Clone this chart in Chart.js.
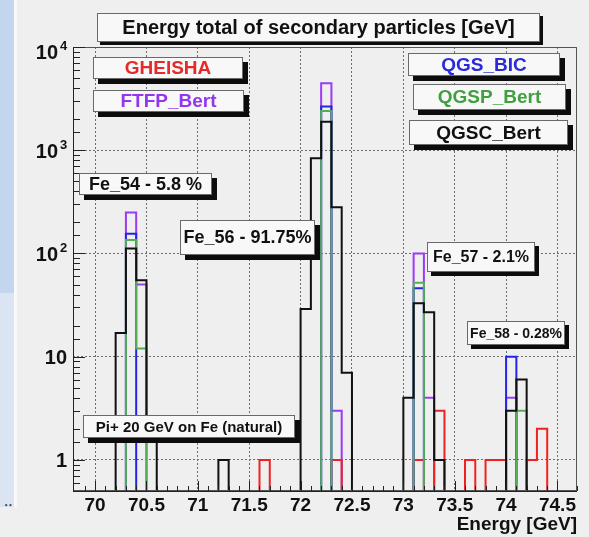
<!DOCTYPE html>
<html>
<head>
<meta charset="utf-8">
<title>Energy total of secondary particles</title>
<script src="https://cdn.jsdelivr.net/npm/chart.js@4.4.1/dist/chart.umd.min.js"></script>
<style>
  html, body { margin: 0; padding: 0; }
  body {
    width: 589px; height: 537px; position: relative; overflow: hidden;
    background: #efefef;
    font-family: "Liberation Sans", Arial, sans-serif;
  }
  .edge { position: absolute; left: 0; width: 14px; }
  #edgeTop { top: 0; height: 293px; background: #c4d6ef; }
  #edgeLow { top: 293px; height: 214px; background: #dae4f2; }
  #edgeGap { position: absolute; left: 14px; top: 0; width: 3px; height: 507px; background: #f9f9f9; }
  #dots { position: absolute; left: 4px; top: 489px; font-size: 16px; color: #444; }
  canvas { position: absolute; left: 0; top: 0; }
</style>
</head>
<body>
<div class="edge" id="edgeTop"></div>
<div class="edge" id="edgeLow"></div>
<div id="edgeGap"></div>
<div id="dots">‥</div>
<canvas id="chart" width="589" height="537"></canvas>
<script>
// Histogram binning (GeV)
const binWidth = 0.1;
const histLow = 69.7;
const histHigh = 74.8;

// Axis ranges
const energyMin = 69.785;
const energyMax = 74.69;
const countMin = 0.5;
const countMax = 10000;

const energyTicks = [70, 70.5, 71, 71.5, 72, 72.5, 73, 73.5, 74, 74.5];
const countTicks = [1, 10, 100, 1000, 10000];

// Filled bins (lower edge) and entries for each physics list
const gheishaBins = [71.6, 72.3, 73.1, 73.3, 73.6, 73.8, 73.9, 74.2, 74.3];
const gheishaCounts = [1, 1, 1, 3, 1, 1, 1, 1, 2];

const ftfpBins = [70.3, 70.4, 72.2, 72.3, 73.1, 73.2, 74.0];
const ftfpCounts = [250, 50, 4450, 3, 100, 4, 4];

const qgsBicBins = [70.3, 72.2, 73.1, 74.0];
const qgsBicCounts = [155, 2650, 46, 10];

const qgspBins = [70.3, 70.4, 72.2, 73.1, 74.1];
const qgspCounts = [135, 12, 2400, 52, 3];

const qgscBins = [70.2, 70.3, 70.4, 70.5, 71.2, 72.0, 72.1, 72.2, 72.3, 72.4, 73.0, 73.1, 73.2, 73.3, 74.0, 74.1];
const qgscCounts = [17, 112, 55, 2, 1, 29, 836, 1890, 280, 7, 4, 33, 27, 1, 3, 6];

const models = ['GHEISHA', 'FTFP_Bert', 'QGS_BIC', 'QGSP_Bert', 'QGSC_Bert'];
const isotopeLabels = ['Fe_54 - 5.8 %', 'Fe_56 - 91.75%', 'Fe_57 - 2.1%', 'Fe_58 - 0.28%'];
const runLabel = 'Pi+ 20 GeV on Fe (natural)';
const titleText = 'Energy total of secondary particles [GeV]';
const axisTitle = 'Energy [GeV]';

// line colours and drawing order (lower order is drawn on top)
const lineColors = ['#ee2222', '#9a3cf4', '#2424e2', '#55ae55', '#111111'];
const textColors = ['#e62a2a', '#9436ee', '#2a2ad6', '#40a040', '#111111'];
const drawOrder = [3, 4, 2, 1, 0];

const FONT = '"Liberation Sans", Arial, sans-serif';

function isHalf(v) { return Math.abs(v * 2 - Math.round(v * 2)) < 1e-6; }
function isDecade(v) { const l = Math.log10(v); return Math.abs(l - Math.round(l)) < 1e-6; }

// step outline: one point per bin lower edge, empty bins sit on the axis floor
function stepPoints(bins, counts) {
  const pts = [];
  const n = Math.round((histHigh - histLow) / binWidth);
  for (let i = 0; i <= n; i++) {
    const x = Math.round((histLow + i * binWidth) * 10) / 10;
    const k = bins.findIndex(b => Math.abs(b - x) < 1e-6);
    pts.push({ x: x, y: (k >= 0 && i < n) ? counts[k] : countMin });
  }
  return pts;
}

const series = [
  [gheishaBins, gheishaCounts],
  [ftfpBins, ftfpCounts],
  [qgsBicBins, qgsBicCounts],
  [qgspBins, qgspCounts],
  [qgscBins, qgscCounts]
];

const datasets = series.map((s, i) => ({
  label: models[i],
  data: stepPoints(s[0], s[1]),
  borderColor: lineColors[i],
  borderWidth: 2,
  pointRadius: 0,
  fill: false,
  stepped: true,
  tension: 0,
  order: drawOrder[i]
}));

// boxes drawn over the frame: [x, y, w, h, shadow]
const titleBox = [97, 13, 443, 29, 3];
const legendBoxes = [
  [93, 57, 150, 22, 5],
  [93, 90, 151, 22, 5],
  [408, 53, 152, 23, 5],
  [413, 84, 153, 26, 5],
  [409, 120, 159, 25, 5]
];
const isotopeBoxes = [
  [79, 173, 133, 22, 5],
  [180, 220, 135, 35, 5],
  [427, 242, 108, 30, 4],
  [467, 321, 98, 24, 4]
];
const isotopeFonts = [18, 18, 16, 14];
const runBox = [83, 415, 212, 23, 5];

function drawPave(ctx, box, text, color, size) {
  const [x, y, w, h, s] = box;
  ctx.fillStyle = '#0c0c0c';
  ctx.fillRect(x + s, y + s, w, h);
  ctx.fillStyle = '#f8f8f8';
  ctx.fillRect(x, y, w, h);
  ctx.strokeStyle = '#6a6a6a';
  ctx.lineWidth = 1;
  ctx.strokeRect(x + 0.5, y + 0.5, w - 1, h - 1);
  ctx.fillStyle = color;
  ctx.font = 'bold ' + size + 'px ' + FONT;
  ctx.textAlign = 'center';
  ctx.textBaseline = 'middle';
  ctx.fillText(text, x + w / 2, y + h / 2 + 1);
}

const framePlugin = {
  id: 'rootFrame',
  afterDatasetsDraw(chart) {
    const { ctx, chartArea: a, scales: { x, y } } = chart;
    ctx.save();

    // frame
    ctx.strokeStyle = '#555';
    ctx.lineWidth = 1;
    ctx.strokeRect(a.left + 0.5, a.top + 0.5, a.right - a.left - 1, a.bottom - a.top - 1);
    ctx.strokeStyle = '#222';
    ctx.beginPath();
    ctx.moveTo(a.left + 0.5, a.top);
    ctx.lineTo(a.left + 0.5, a.bottom + 0.5);
    ctx.lineTo(a.right, a.bottom + 0.5);
    ctx.stroke();

    // inward tick marks
    ctx.beginPath();
    x.ticks.forEach(t => {
      if (t.value < energyMin + 1e-6 || t.value > energyMax) return;
      const px = Math.round(x.getPixelForValue(t.value)) + 0.5;
      const len = isHalf(t.value) ? 10 : 5;
      ctx.moveTo(px, a.bottom);
      ctx.lineTo(px, a.bottom - len);
    });
    y.ticks.forEach(t => {
      const py = Math.round(y.getPixelForValue(t.value)) + 0.5;
      const len = isDecade(t.value) ? 12 : 7;
      ctx.moveTo(a.left, py);
      ctx.lineTo(a.left + len, py);
    });
    ctx.stroke();

    // x tick labels
    ctx.fillStyle = '#111';
    ctx.font = 'bold 19px ' + FONT;
    ctx.textAlign = 'center';
    ctx.textBaseline = 'middle';
    energyTicks.forEach(v => {
      ctx.fillText(String(v), x.getPixelForValue(v), a.bottom + 15);
    });

    // y tick labels, powers of ten
    countTicks.forEach(v => {
      const e = Math.round(Math.log10(v));
      const py = Math.max(y.getPixelForValue(v) + 2, a.top + 6);
      ctx.textBaseline = 'middle';
      if (e < 2) {
        ctx.font = 'bold 20px ' + FONT;
        ctx.textAlign = 'right';
        ctx.fillText(String(v), a.left - 6, py);
      } else {
        ctx.font = 'bold 20px ' + FONT;
        ctx.textAlign = 'right';
        ctx.fillText('10', a.left - 15, py);
        ctx.font = 'bold 13px ' + FONT;
        ctx.textAlign = 'left';
        ctx.fillText(String(e), a.left - 13, py - 7);
      }
    });

    // axis title
    ctx.font = 'bold 19px ' + FONT;
    ctx.textAlign = 'right';
    ctx.textBaseline = 'middle';
    ctx.fillText(axisTitle, a.right, a.bottom + 34);

    // title, legend and isotope panels
    drawPave(ctx, titleBox, titleText, '#111', 20);
    legendBoxes.forEach((b, i) => drawPave(ctx, b, models[i], textColors[i], 19));
    isotopeBoxes.forEach((b, i) => drawPave(ctx, b, isotopeLabels[i], '#111', isotopeFonts[i]));
    drawPave(ctx, runBox, runLabel, '#111', 15);

    ctx.restore();
  }
};

new Chart(document.getElementById('chart').getContext('2d'), {
  type: 'line',
  data: { datasets: datasets },
  options: {
    responsive: false,
    animation: false,
    events: [],
    layout: { padding: { left: 73, right: 12, top: 47, bottom: 46 } },
    plugins: {
      legend: { display: false },
      tooltip: { enabled: false }
    },
    scales: {
      x: {
        type: 'linear',
        min: energyMin,
        max: energyMax,
        ticks: { display: false, stepSize: 0.1, autoSkip: false },
        grid: {
          drawTicks: false,
          lineWidth: 1,
          color: c => (c.tick && isHalf(c.tick.value)) ? '#6c6c6c' : 'rgba(0,0,0,0)'
        },
        border: { display: false, dash: [2, 2] }
      },
      y: {
        type: 'logarithmic',
        min: countMin,
        max: countMax,
        ticks: { display: false, autoSkip: false },
        grid: {
          drawTicks: false,
          lineWidth: 1,
          color: c => (c.tick && isDecade(c.tick.value)) ? '#6c6c6c' : 'rgba(0,0,0,0)'
        },
        border: { display: false, dash: [2, 2] }
      }
    }
  },
  plugins: [framePlugin]
});
</script>
</body>
</html>
